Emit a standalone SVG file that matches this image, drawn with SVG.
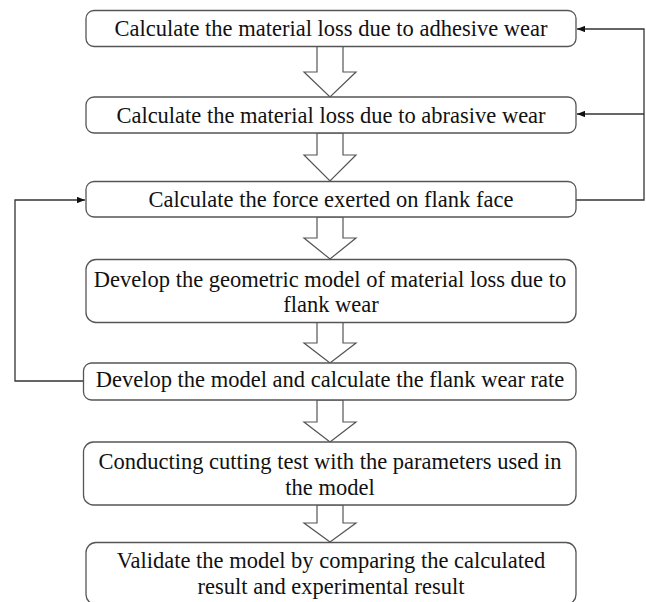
<svg xmlns="http://www.w3.org/2000/svg" width="646" height="602" viewBox="0 0 646 602">
<style>
.box{fill:#fff;stroke:#555;stroke-width:1.3}
.blk{fill:#fff;stroke:#555;stroke-width:1.2;stroke-linejoin:miter}
.ln{fill:none;stroke:#333;stroke-width:1.3}
text{font-family:"Liberation Serif","Times New Roman",serif;font-size:22.5px;fill:#111;text-anchor:middle}
</style>
<defs>
<marker id="ah" viewBox="0 0 10 8" refX="10" refY="4" markerWidth="8" markerHeight="6.4" markerUnits="userSpaceOnUse" orient="auto">
<path d="M0,0 L10,4 L0,8 Z" fill="#111"/>
</marker>
<path id="blockArrow" d="M-13,0 L13,0 L13,H L26,H L0,T L-26,H L-13,H Z"/>
</defs>
<rect width="646" height="602" fill="#fff"/>
<g id="connectors">
<path class="blk" d="M317,46 L343,46 L343,72 L356,72 L330,97 L304,72 L317,72 Z"/>
<path class="blk" d="M317,133 L343,133 L343,155 L356,155 L330,181 L304,155 L317,155 Z"/>
<path class="blk" d="M317,217 L343,217 L343,238 L356,238 L330,259 L304,238 L317,238 Z"/>
<path class="blk" d="M317,322 L343,322 L343,343 L356,343 L330,363 L304,343 L317,343 Z"/>
<path class="blk" d="M317,400 L343,400 L343,422 L356,422 L330,442 L304,422 L317,422 Z"/>
<path class="blk" d="M317,505 L343,505 L343,523 L356,523 L330,542 L304,523 L317,523 Z"/>
<path class="ln" d="M576,200 L644,200 L644,29 L577,29" marker-end="url(#ah)"/>
<path class="ln" d="M644,114 L577,114" marker-end="url(#ah)"/>
<path class="ln" d="M83,381 L15,381 L15,200 L85,200" marker-end="url(#ah)"/>
</g>
<g id="n1"><rect class="box" x="86" y="10.5" width="490" height="36" rx="8"/><text x="331" y="36">Calculate the material loss due to adhesive wear</text></g>
<g id="n2"><rect class="box" x="86" y="97" width="490" height="36" rx="8"/><text x="331" y="123">Calculate the material loss due to abrasive wear</text></g>
<g id="n3"><rect class="box" x="86" y="181.5" width="490" height="35.5" rx="8"/><text x="331" y="207">Calculate the force exerted on flank face</text></g>
<g id="n4"><rect class="box" x="86" y="259.5" width="490" height="63" rx="10"/><text x="330" y="287">Develop the geometric model of material loss due to</text><text x="331" y="312">flank wear</text></g>
<g id="n5"><rect class="box" x="83.5" y="363" width="492.5" height="37" rx="8"/><text x="330" y="387">Develop the model and calculate the flank wear rate</text></g>
<g id="n6"><rect class="box" x="83.5" y="442" width="492.5" height="63" rx="10"/><text x="330" y="469">Conducting cutting test with the parameters used in</text><text x="330" y="495">the model</text></g>
<g id="n7"><rect class="box" x="86" y="542.5" width="490" height="62" rx="10"/><text x="331" y="568">Validate the model by comparing the calculated</text><text x="331" y="594">result and experimental result</text></g>
</svg>
